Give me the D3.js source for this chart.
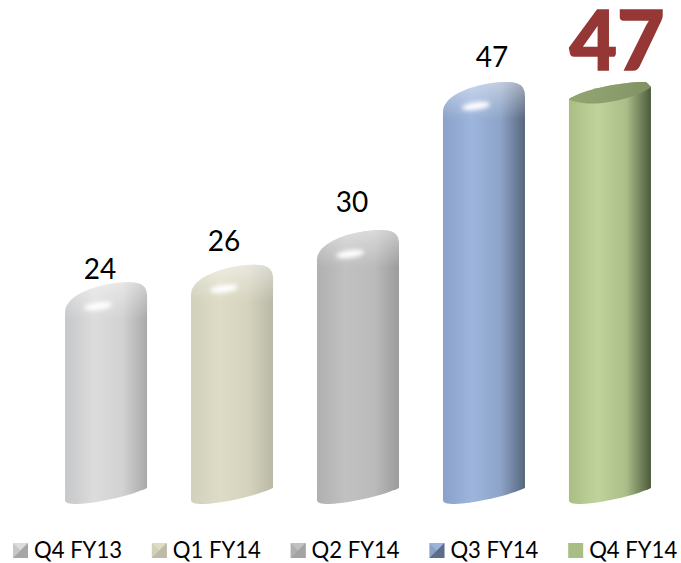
<!DOCTYPE html>
<html lang="en-us">
<head>
<meta charset="utf-8">
<title>Quarterly bars</title>
<script src="https://d3js.org/d3.v7.min.js"></script>
<style>
  html, body { margin: 0; padding: 0; background: #fff; }
  svg { display: block; }
  text { font-family: Lato, "Open Sans", sans-serif; fill: #000; }
</style>
</head>
<body>
<div id="chart"></div>
<script>
const categories = ["Q4 FY13", "Q1 FY14", "Q2 FY14", "Q3 FY14", "Q4 FY14"];
const values = [24, 26, 30, 47, 47];

// horizontal shading of each cylinder, left to right
const shadeEdge = ["#c6c7c8", "#d0d0bb", "#b0b0b0", "#8aa2c8", "#a9be85"];
const shadeLight = ["#dcdcdd", "#dedcc6", "#c1c1c1", "#9db5dd", "#c0d39a"];
const shadeMid = ["#d2d2d3", "#d5d3be", "#bbbbbb", "#8ea4c8", "#abbd89"];
const shadeDark = ["#a9a9aa", "#bab9a7", "#9b9b9b", "#56667e", "#4c5a3c"];
const swatchDark = ["#a6a6a6", "#bdbca8", "#a3a3a3", "#5d6d87", "#b9cd93"];

// label nudges off the bar centre, the labels in the picture sit unevenly
const labelDx = [-6, -8, -6, 8, 7];
const labelDy = [3, 14, 18, 15, 12];

const width = 681;
const height = 563;

const x = d3.scaleBand().domain(categories).range([43, 673]).paddingInner(0.349).paddingOuter(0.175);
const y = d3.scaleLinear().domain([0, 47]).range([491, 82]);

const svg = d3.select("#chart").append("svg").attr("width", width).attr("height", height);
const defs = svg.append("defs");

defs.append("filter").attr("id", "soft").append("feGaussianBlur").attr("stdDeviation", 0.6);
defs.append("filter").attr("id", "glow")
  .attr("x", "-50%").attr("y", "-100%").attr("width", "200%").attr("height", "300%")
  .append("feGaussianBlur").attr("stdDeviation", 2);

categories.forEach((c, i) => {
  const g = defs.append("linearGradient").attr("id", "body" + i);
  [[0, shadeEdge[i]], [0.35, shadeLight[i]], [0.7, shadeMid[i]], [1, shadeDark[i]]].forEach(s =>
    g.append("stop").attr("offset", s[0]).attr("stop-color", s[1]));
});

// lighter plateau on the rounded tops, fading out under the shoulder
const bevel = defs.append("linearGradient").attr("id", "bevel")
  .attr("x1", 0).attr("y1", 0).attr("x2", 0).attr("y2", 1);
[[0, "#fff", 0.45], [0.4, "#fff", 0.22], [0.78, "#fff", 0]].forEach(s =>
  bevel.append("stop").attr("offset", s[0]).attr("stop-color", s[1]).attr("stop-opacity", s[2]));

const face = defs.append("linearGradient").attr("id", "face");
[[0, "#93a571"], [0.6, "#8a9c6c"], [1, "#7f9062"]].forEach(s =>
  face.append("stop").attr("offset", s[0]).attr("stop-color", s[1]));

function bodyPath(x0, x1, top, rounded) {
  const base = y(0);
  const p = d3.path();
  p.moveTo(x0, base + 9);
  if (rounded) {
    p.lineTo(x0, top + 30);
    p.bezierCurveTo(x0, top + 12, x0 + 34, top + 1, x1 - 20, top);
    p.bezierCurveTo(x1 - 6, top, x1, top + 3, x1, top + 15);
  } else {
    p.lineTo(x0, top + 17);
    p.bezierCurveTo(x0 + 14, top + 8, x0 + 48, top, x1 - 5, top);
    p.lineTo(x1, top + 5);
  }
  p.lineTo(x1, base - 3);
  p.bezierCurveTo(x1 - 12, base + 3, x0 + 36, base + 12, x0 + 12, base + 13);
  p.bezierCurveTo(x0 + 4, base + 13, x0, base + 12, x0, base + 9);
  p.closePath();
  return p.toString();
}

function capPath(x0, x1, top) {
  const p = d3.path();
  p.moveTo(x0, top + 48);
  p.lineTo(x0, top + 30);
  p.bezierCurveTo(x0, top + 12, x0 + 34, top + 1, x1 - 20, top);
  p.bezierCurveTo(x1 - 6, top, x1, top + 3, x1, top + 15);
  p.lineTo(x1, top + 40);
  p.bezierCurveTo(x1 - 20, top + 44, x0 + 30, top + 46, x0, top + 48);
  p.closePath();
  return p.toString();
}

function facePath(x0, x1, top) {
  const p = d3.path();
  p.moveTo(x0, top + 17);
  p.bezierCurveTo(x0 + 14, top + 8, x0 + 48, top, x1 - 5, top);
  p.lineTo(x1, top + 5);
  p.bezierCurveTo(x1 - 10, top + 14, x0 + 36, top + 24, x0 + 14, top + 21);
  p.bezierCurveTo(x0 + 7, top + 20, x0 + 2, top + 19, x0, top + 17);
  p.closePath();
  return p.toString();
}

const bars = svg.selectAll("g.bar").data(categories).join("g").attr("class", "bar")
  .attr("filter", "url(#soft)");

bars.append("path")
  .attr("d", (c, i) => bodyPath(x(c), x(c) + x.bandwidth(), y(values[i]), i < 4))
  .attr("fill", (c, i) => `url(#body${i})`);

bars.filter((c, i) => i < 4).append("path")
  .attr("d", (c, i) => capPath(x(c), x(c) + x.bandwidth(), y(values[i])))
  .attr("fill", "url(#bevel)");

bars.filter((c, i) => i === 4).append("path")
  .attr("d", () => facePath(x(categories[4]), x(categories[4]) + x.bandwidth(), y(values[4])))
  .attr("fill", "url(#face)");

svg.selectAll("ellipse.shine").data(categories.slice(0, 4)).join("ellipse").attr("class", "shine")
  .attr("rx", 14).attr("ry", 3.8)
  .attr("transform", (c, i) => `translate(${x(c) + x.bandwidth() / 2 - 8},${y(values[i]) + 24}) rotate(-8)`)
  .attr("fill", "#fff")
  .attr("filter", "url(#glow)");

// value labels
svg.selectAll("text.value").data(categories.slice(0, 4)).join("text").attr("class", "value")
  .attr("x", (c, i) => x(c) + x.bandwidth() / 2 + labelDx[i])
  .attr("y", (c, i) => y(values[i]) - labelDy[i])
  .attr("text-anchor", "middle")
  .attr("font-size", 28)
  .text((c, i) => values[i]);

svg.append("text")
  .attr("x", x(categories[4]) + x.bandwidth() / 2 + labelDx[4])
  .attr("y", y(values[4]) - labelDy[4])
  .attr("text-anchor", "middle")
  .attr("font-size", 82)
  .attr("font-weight", 900)
  .style("fill", "#953735")
  .style("stroke", "#953735")
  .style("stroke-width", 1.5)
  .text(values[4]);

// legend
const legendX = d3.scaleBand().domain(categories).range([13, 707]).padding(0);
const legend = svg.selectAll("g.legend").data(categories).join("g").attr("class", "legend")
  .attr("transform", c => `translate(${legendX(c)},543)`);

const s = 15;
legend.append("rect").attr("width", s).attr("height", s).attr("fill", (c, i) => shadeEdge[i]);
legend.filter((c, i) => i < 4).append("path").attr("d", `M0,0L${s},0L${s / 2},${s / 2}Z`)
  .attr("fill", (c, i) => shadeLight[i]);
legend.filter((c, i) => i < 4).append("path").attr("d", `M${s},0L${s},${s}L0,${s}L${s / 2},${s / 2}Z`)
  .attr("fill", (c, i) => swatchDark[i]);
legend.append("text")
  .attr("x", 21)
  .attr("y", 15)
  .attr("font-size", 23)
  .attr("textLength", 88)
  .attr("lengthAdjust", "spacingAndGlyphs")
  .text(c => c);
</script>
</body>
</html>
